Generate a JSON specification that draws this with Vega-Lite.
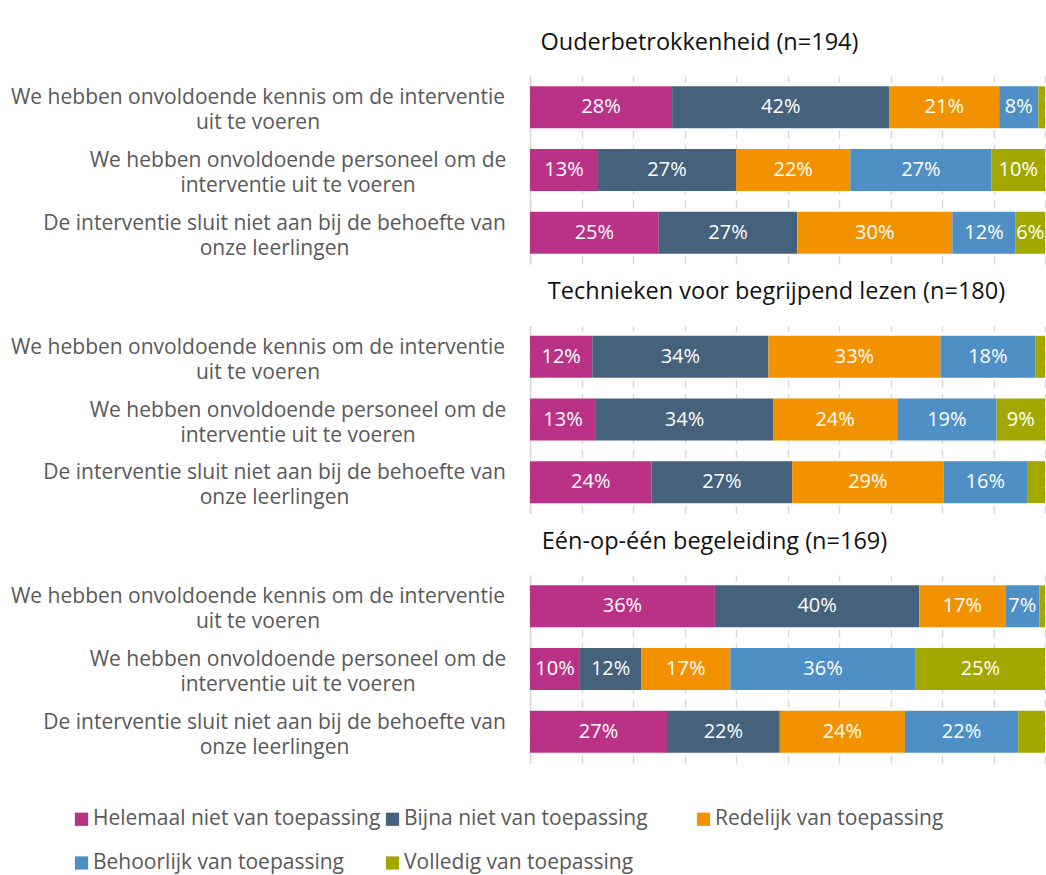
{
  "$schema": "https://vega.github.io/schema/vega-lite/v6.json",
  "padding": {"left": 0, "top": 30, "right": 0, "bottom": 0},
  "background": "white",
  "datasets": {
    "d": [
      {"p": "P1", "i": "We hebben onvoldoende kennis om de interventie|uit te voeren", "c": "Helemaal niet van toepassing", "v": 27.6},
      {"p": "P1", "i": "We hebben onvoldoende kennis om de interventie|uit te voeren", "c": "Bijna niet van toepassing", "v": 42.2},
      {"p": "P1", "i": "We hebben onvoldoende kennis om de interventie|uit te voeren", "c": "Redelijk van toepassing", "v": 21.3},
      {"p": "P1", "i": "We hebben onvoldoende kennis om de interventie|uit te voeren", "c": "Behoorlijk van toepassing", "v": 7.6},
      {"p": "P1", "i": "We hebben onvoldoende kennis om de interventie|uit te voeren", "c": "Volledig van toepassing", "v": 1.3},
      {"p": "P1", "i": "We hebben onvoldoende personeel om de|interventie uit te voeren", "c": "Helemaal niet van toepassing", "v": 13.2},
      {"p": "P1", "i": "We hebben onvoldoende personeel om de|interventie uit te voeren", "c": "Bijna niet van toepassing", "v": 26.8},
      {"p": "P1", "i": "We hebben onvoldoende personeel om de|interventie uit te voeren", "c": "Redelijk van toepassing", "v": 22.2},
      {"p": "P1", "i": "We hebben onvoldoende personeel om de|interventie uit te voeren", "c": "Behoorlijk van toepassing", "v": 27.4},
      {"p": "P1", "i": "We hebben onvoldoende personeel om de|interventie uit te voeren", "c": "Volledig van toepassing", "v": 10.4},
      {"p": "P1", "i": "De interventie sluit niet aan bij de behoefte van|onze leerlingen", "c": "Helemaal niet van toepassing", "v": 25.0},
      {"p": "P1", "i": "De interventie sluit niet aan bij de behoefte van|onze leerlingen", "c": "Bijna niet van toepassing", "v": 26.9},
      {"p": "P1", "i": "De interventie sluit niet aan bij de behoefte van|onze leerlingen", "c": "Redelijk van toepassing", "v": 30.1},
      {"p": "P1", "i": "De interventie sluit niet aan bij de behoefte van|onze leerlingen", "c": "Behoorlijk van toepassing", "v": 12.3},
      {"p": "P1", "i": "De interventie sluit niet aan bij de behoefte van|onze leerlingen", "c": "Volledig van toepassing", "v": 5.7},

      {"p": "P2", "i": "We hebben onvoldoende kennis om de interventie|uit te voeren", "c": "Helemaal niet van toepassing", "v": 12.1},
      {"p": "P2", "i": "We hebben onvoldoende kennis om de interventie|uit te voeren", "c": "Bijna niet van toepassing", "v": 34.2},
      {"p": "P2", "i": "We hebben onvoldoende kennis om de interventie|uit te voeren", "c": "Redelijk van toepassing", "v": 33.4},
      {"p": "P2", "i": "We hebben onvoldoende kennis om de interventie|uit te voeren", "c": "Behoorlijk van toepassing", "v": 18.4},
      {"p": "P2", "i": "We hebben onvoldoende kennis om de interventie|uit te voeren", "c": "Volledig van toepassing", "v": 1.9},
      {"p": "P2", "i": "We hebben onvoldoende personeel om de|interventie uit te voeren", "c": "Helemaal niet van toepassing", "v": 12.8},
      {"p": "P2", "i": "We hebben onvoldoende personeel om de|interventie uit te voeren", "c": "Bijna niet van toepassing", "v": 34.4},
      {"p": "P2", "i": "We hebben onvoldoende personeel om de|interventie uit te voeren", "c": "Redelijk van toepassing", "v": 24.1},
      {"p": "P2", "i": "We hebben onvoldoende personeel om de|interventie uit te voeren", "c": "Behoorlijk van toepassing", "v": 19.3},
      {"p": "P2", "i": "We hebben onvoldoende personeel om de|interventie uit te voeren", "c": "Volledig van toepassing", "v": 9.4},
      {"p": "P2", "i": "De interventie sluit niet aan bij de behoefte van|onze leerlingen", "c": "Helemaal niet van toepassing", "v": 23.6},
      {"p": "P2", "i": "De interventie sluit niet aan bij de behoefte van|onze leerlingen", "c": "Bijna niet van toepassing", "v": 27.3},
      {"p": "P2", "i": "De interventie sluit niet aan bij de behoefte van|onze leerlingen", "c": "Redelijk van toepassing", "v": 29.4},
      {"p": "P2", "i": "De interventie sluit niet aan bij de behoefte van|onze leerlingen", "c": "Behoorlijk van toepassing", "v": 16.2},
      {"p": "P2", "i": "De interventie sluit niet aan bij de behoefte van|onze leerlingen", "c": "Volledig van toepassing", "v": 3.5},

      {"p": "P3", "i": "We hebben onvoldoende kennis om de interventie|uit te voeren", "c": "Helemaal niet van toepassing", "v": 35.9},
      {"p": "P3", "i": "We hebben onvoldoende kennis om de interventie|uit te voeren", "c": "Bijna niet van toepassing", "v": 39.7},
      {"p": "P3", "i": "We hebben onvoldoende kennis om de interventie|uit te voeren", "c": "Redelijk van toepassing", "v": 16.7},
      {"p": "P3", "i": "We hebben onvoldoende kennis om de interventie|uit te voeren", "c": "Behoorlijk van toepassing", "v": 6.6},
      {"p": "P3", "i": "We hebben onvoldoende kennis om de interventie|uit te voeren", "c": "Volledig van toepassing", "v": 1.1},
      {"p": "P3", "i": "We hebben onvoldoende personeel om de|interventie uit te voeren", "c": "Helemaal niet van toepassing", "v": 9.7},
      {"p": "P3", "i": "We hebben onvoldoende personeel om de|interventie uit te voeren", "c": "Bijna niet van toepassing", "v": 11.9},
      {"p": "P3", "i": "We hebben onvoldoende personeel om de|interventie uit te voeren", "c": "Redelijk van toepassing", "v": 17.3},
      {"p": "P3", "i": "We hebben onvoldoende personeel om de|interventie uit te voeren", "c": "Behoorlijk van toepassing", "v": 36.0},
      {"p": "P3", "i": "We hebben onvoldoende personeel om de|interventie uit te voeren", "c": "Volledig van toepassing", "v": 25.1},
      {"p": "P3", "i": "De interventie sluit niet aan bij de behoefte van|onze leerlingen", "c": "Helemaal niet van toepassing", "v": 26.6},
      {"p": "P3", "i": "De interventie sluit niet aan bij de behoefte van|onze leerlingen", "c": "Bijna niet van toepassing", "v": 21.9},
      {"p": "P3", "i": "De interventie sluit niet aan bij de behoefte van|onze leerlingen", "c": "Redelijk van toepassing", "v": 24.3},
      {"p": "P3", "i": "De interventie sluit niet aan bij de behoefte van|onze leerlingen", "c": "Behoorlijk van toepassing", "v": 22.0},
      {"p": "P3", "i": "De interventie sluit niet aan bij de behoefte van|onze leerlingen", "c": "Volledig van toepassing", "v": 5.2}
    ]
  },
  "vconcat": [
    {
      "width": 515, "height": 188,
      "data": {"name": "d"},
      "title": {"text": "Ouderbetrokkenheid (n=194)", "dx": -88},
      "transform": [
        {"filter": "datum.p === 'P1'"},
        {"calculate": "indexof(['Helemaal niet van toepassing','Bijna niet van toepassing','Redelijk van toepassing','Behoorlijk van toepassing','Volledig van toepassing'], datum.c)", "as": "o"},
        {"stack": "v", "groupby": ["i"], "sort": [{"field": "o", "order": "ascending"}], "as": ["v0", "v1"]},
        {"calculate": "(datum.v0 + datum.v1) / 2", "as": "mid"},
        {"calculate": "format(datum.v, '.0f') + '%'", "as": "lbl"}
      ],
      "encoding": {
        "y": {"field": "i", "type": "nominal", "sort": null, "scale": {"paddingInner": 0.33, "paddingOuter": 0.165},
              "axis": {"labelPadding": {"condition": [{"test": "indexof(datum.value, 'kennis') >= 0", "value": 272.5}, {"test": "indexof(datum.value, 'personeel') >= 0", "value": 232.5}], "value": 256}}}
      },
      "layer": [
        {"mark": "bar", "encoding": {
          "x": {"field": "v0", "type": "quantitative", "scale": {"domain": [0, 100], "nice": false}},
          "x2": {"field": "v1"},
          "color": {"field": "c", "type": "nominal",
            "scale": {"domain": ["Helemaal niet van toepassing", "Bijna niet van toepassing", "Redelijk van toepassing", "Behoorlijk van toepassing", "Volledig van toepassing"],
                      "range": ["#BA3288", "#46617B", "#F29200", "#4E8FC5", "#A2A800"]}}
        }},
        {"mark": {"type": "text", "color": "white", "fontSize": 20}, "transform": [{"filter": "datum.v >= 5.5"}],
         "encoding": {"x": {"field": "mid", "type": "quantitative"}, "text": {"field": "lbl"}}}
      ]
    },
    {
      "width": 515, "height": 188,
      "data": {"name": "d"},
      "title": {"text": "Technieken voor begrijpend lezen (n=180)", "dx": -11},
      "transform": [
        {"filter": "datum.p === 'P2'"},
        {"calculate": "indexof(['Helemaal niet van toepassing','Bijna niet van toepassing','Redelijk van toepassing','Behoorlijk van toepassing','Volledig van toepassing'], datum.c)", "as": "o"},
        {"stack": "v", "groupby": ["i"], "sort": [{"field": "o", "order": "ascending"}], "as": ["v0", "v1"]},
        {"calculate": "(datum.v0 + datum.v1) / 2", "as": "mid"},
        {"calculate": "format(datum.v, '.0f') + '%'", "as": "lbl"}
      ],
      "encoding": {
        "y": {"field": "i", "type": "nominal", "sort": null, "scale": {"paddingInner": 0.33, "paddingOuter": 0.165},
              "axis": {"labelPadding": {"condition": [{"test": "indexof(datum.value, 'kennis') >= 0", "value": 272.5}, {"test": "indexof(datum.value, 'personeel') >= 0", "value": 232.5}], "value": 256}}}
      },
      "layer": [
        {"mark": "bar", "encoding": {
          "x": {"field": "v0", "type": "quantitative", "scale": {"domain": [0, 100], "nice": false}},
          "x2": {"field": "v1"},
          "color": {"field": "c", "type": "nominal"}
        }},
        {"mark": {"type": "text", "color": "white", "fontSize": 20}, "transform": [{"filter": "datum.v >= 5.5"}],
         "encoding": {"x": {"field": "mid", "type": "quantitative"}, "text": {"field": "lbl"}}}
      ]
    },
    {
      "width": 515, "height": 188,
      "data": {"name": "d"},
      "title": {"text": "Eén-op-één begeleiding (n=169)", "dx": -73},
      "transform": [
        {"filter": "datum.p === 'P3'"},
        {"calculate": "indexof(['Helemaal niet van toepassing','Bijna niet van toepassing','Redelijk van toepassing','Behoorlijk van toepassing','Volledig van toepassing'], datum.c)", "as": "o"},
        {"stack": "v", "groupby": ["i"], "sort": [{"field": "o", "order": "ascending"}], "as": ["v0", "v1"]},
        {"calculate": "(datum.v0 + datum.v1) / 2", "as": "mid"},
        {"calculate": "format(datum.v, '.0f') + '%'", "as": "lbl"}
      ],
      "encoding": {
        "y": {"field": "i", "type": "nominal", "sort": null, "scale": {"paddingInner": 0.33, "paddingOuter": 0.165},
              "axis": {"labelPadding": {"condition": [{"test": "indexof(datum.value, 'kennis') >= 0", "value": 272.5}, {"test": "indexof(datum.value, 'personeel') >= 0", "value": 232.5}], "value": 256}}}
      },
      "layer": [
        {"mark": "bar", "encoding": {
          "x": {"field": "v0", "type": "quantitative", "scale": {"domain": [0, 100], "nice": false}},
          "x2": {"field": "v1"},
          "color": {"field": "c", "type": "nominal"}
        }},
        {"mark": {"type": "text", "color": "white", "fontSize": 20}, "transform": [{"filter": "datum.v >= 5.5"}],
         "encoding": {"x": {"field": "mid", "type": "quantitative"}, "text": {"field": "lbl"}}}
      ]
    }
  ],
  "resolve": {"scale": {"color": "shared"}},
  "config": {
    "font": "Open Sans",
    "view": {"stroke": null},
    "concat": {"spacing": 15.5},
    "title": {"anchor": "middle", "frame": "group", "offset": 22, "fontSize": 23.5, "fontWeight": "normal", "color": "#111111", "font": "Open Sans"},
    "axisY": {"title": null, "domain": true, "domainColor": "#d9d9d9", "domainWidth": 1.5, "ticks": false, "grid": false,
              "labelAlign": "center", "labelFontSize": 21, "labelColor": "#595959", "labelLineHeight": 25, "labelLimit": 600,
              "labelOffset": -9,
              "labelExpr": "split(datum.label, '|')", "minExtent": 530, "maxExtent": 530, "labelFont": "Open Sans"},
    "axisX": {"title": null, "domain": false, "ticks": false, "labels": false, "grid": true, "gridColor": "#d9d9d9",
              "gridDash": [8, 6], "gridWidth": 1.5, "values": [0, 10, 20, 30, 40, 50, 60, 70, 80, 90, 100]},
    "legend": {"orient": "none", "legendX": -459, "legendY": 732.5, "direction": "horizontal", "columns": 3, "gridAlign": "all",
               "columnPadding": 1, "rowPadding": 22, "symbolType": "square", "symbolSize": 175, "symbolStrokeWidth": 0,
               "labelFontSize": 21, "labelColor": "#595959", "labelLimit": 400, "labelOffset": 1, "title": null,
               "labelFont": "Open Sans"}
  }
}
